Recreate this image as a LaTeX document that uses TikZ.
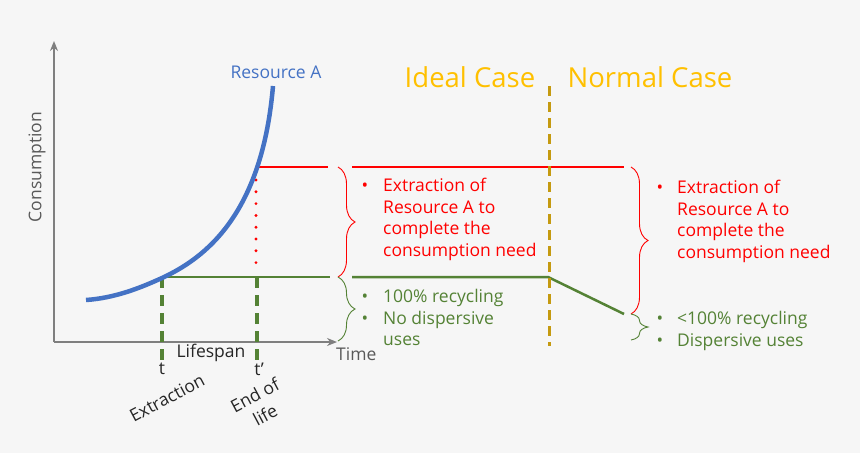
\documentclass[tikz,border=0pt]{standalone}
\usepackage{fontspec}
\setmainfont{Open Sans}
\usetikzlibrary{decorations.pathreplacing,arrows.meta}
\definecolor{bg}{HTML}{F6F6F6}
\definecolor{axisgray}{HTML}{7F7F7F}
\definecolor{resblue}{HTML}{4472C4}
\definecolor{resred}{HTML}{FF0000}
\definecolor{resgreen}{HTML}{548235}
\definecolor{casegold}{HTML}{FFC000}
\definecolor{divgold}{HTML}{C59A10}
\definecolor{labgray}{HTML}{595959}
\tikzset{
  axis/.style={draw=axisgray, line width=1.8pt, -{Stealth[length=10pt,width=8pt]}},
  bracered/.style={draw=resred, line width=0.9pt, decorate, decoration={brace, amplitude=17pt}},
  bracegreen/.style={draw=resgreen, line width=0.9pt, decorate, decoration={brace, amplitude=17pt}},
  txt/.style={inner sep=0pt, font=\fontsize{17.5}{21.5}\selectfont},
  bulletblock/.style={txt, anchor=north west, align=left},
  casetxt/.style={inner sep=0pt, text=casegold, font=\fontsize{27.5}{32}\selectfont},
  mainline/.style={line width=2.5pt},
  vdash/.style={resgreen, line width=3.2pt, dash pattern=on 11pt off 7pt},
}
\newcommand{\bl}[1]{\llap{\textbullet\hspace{15pt}}#1}
\newcommand{\blb}[1]{\llap{\textbullet\hspace{14pt}}#1}
\begin{document}
\begin{tikzpicture}[x=1pt,y=-1pt]
\useasboundingbox[fill=bg] (0,0) rectangle (860,453);
% axes
\coordinate (o) at (54,342);
\coordinate (ytop) at (54,41);
\coordinate (xend) at (337,342);
\draw[axis] (o) -- (ytop);
\draw[axis] (o) -- (xend);
\node[txt, text=labgray, rotate=90] (cons) at (37,167) {Consumption};
\node[txt, text=labgray, anchor=west] (time) at (336,354) {Time};
% key points
\coordinate (t1) at (162,277);
\coordinate (t2) at (256,167);
\coordinate (t2g) at (257,277);
\coordinate (t1b) at (162,362);
\coordinate (t2b) at (257,362);
% green lines
\draw[vdash] (t1) -- (t1b);
\draw[vdash] (t2g) -- (t2b);
\coordinate (g1e) at (330,277);
\coordinate (g2s) at (352,277);
\coordinate (gk) at (548,277);
\coordinate (ge) at (624,314);
\draw[resgreen, mainline] (t1) -- (g1e);
\draw[resgreen, mainline, line join=round] (g2s) -- (gk) -- (ge);
% red lines
\coordinate (r1e) at (328,167);
\coordinate (r2s) at (352,167);
\coordinate (re) at (624,167);
\coordinate (rd0) at (256,180);
\coordinate (rd) at (256,266);
\draw[resred, mainline] (t2) -- (r1e);
\draw[resred, mainline] (r2s) -- (re);
\draw[resred, line width=3.2pt, line cap=round, dash pattern=on 0pt off 11.8pt] (rd0) -- (rd);
% blue curve
\draw[resblue, line width=4.5pt] (86,300) .. controls (115,298) and (140,288) .. (162,278)
   .. controls (205,258) and (262,215) .. (273,86);
\node[txt, text=resblue] (resA) at (276,72) {Resource A};
% divider
\coordinate (dtop) at (549,86);
\coordinate (dbot) at (549,346);
\draw[divgold, line width=3pt, dash pattern=on 10pt off 6pt] (dtop) -- (dbot);
\node[casetxt] (ideal) at (470,77) {Ideal Case};
\node[casetxt] (normal) at (650,77) {Normal Case};
% labels under axis
\node[txt, text=black!85] (life) at (211,353) {Lifespan};
\node[txt, text=black!85] (tl) at (162,369) {t};
\node[txt, text=black!85] (tpl) at (259,369) {t’};
\node[txt, text=black!85, rotate=28] (extr) at (167,398) {Extraction};
\node[txt, text=black!85, rotate=28, align=center, font=\fontsize{17.5}{22}\selectfont] (eol) at (260,405) {End of\\life};
% braces
\coordinate (b1t) at (338,167);
\coordinate (b1m) at (338,277);
\coordinate (b1b) at (338,341);
\draw[bracered] (b1t) -- (b1m);
\draw[bracegreen] (b1m) -- (b1b);
\coordinate (b2t) at (631,167);
\coordinate (b2m) at (631,314);
\coordinate (b2b) at (631,340);
\draw[bracered] (b2t) -- (b2m);
\draw[bracegreen] (b2m) -- (b2b);
% text blocks
\node[bulletblock, text=resred] (red1) at (383,178) {\bl{Extraction of}\\Resource A to\\complete the\\consumption need};
\node[bulletblock, text=resgreen] (green1) at (383,289) {\bl{100\% recycling}\\\bl{No dispersive}\\uses};
\node[bulletblock, text=resred] (red2) at (677,180) {\blb{Extraction of}\\Resource A to\\complete the\\consumption need};
\node[bulletblock, text=resgreen] (green2) at (677,311) {\blb{<100\% recycling}\\\blb{Dispersive uses}};
\end{tikzpicture}
\end{document}
